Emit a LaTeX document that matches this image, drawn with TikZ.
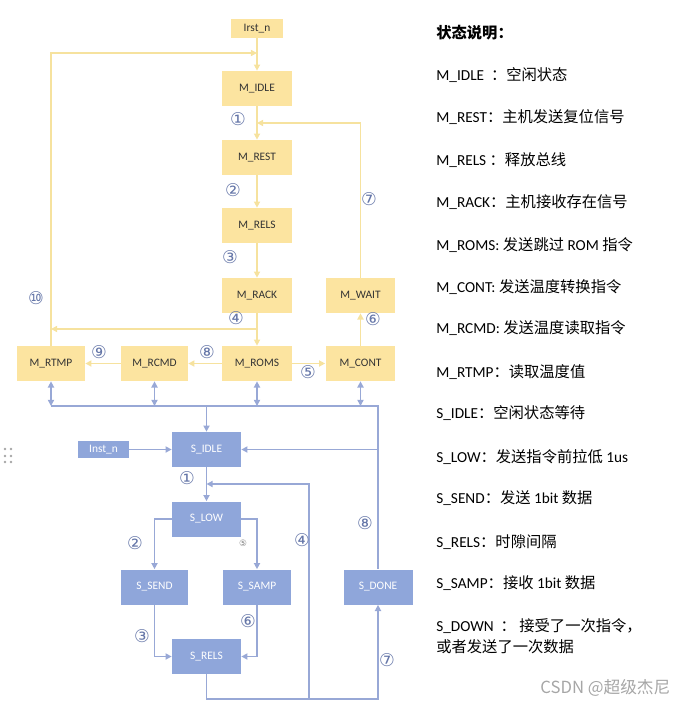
\documentclass[tikz,border=0pt]{standalone}
\usepackage{fontspec}
\setmainfont{Carlito}
\newfontfamily\cjk{Noto Sans CJK SC}
\newfontfamily\circfont{DejaVu Sans}
\usetikzlibrary{arrows.meta}
\definecolor{mfill}{HTML}{FCE4A0}
\definecolor{mline}{HTML}{F6E29E}
\definecolor{sfill}{HTML}{8FA6DA}
\definecolor{sline}{HTML}{98A8D6}
\definecolor{numcol}{HTML}{6576A8}
\tikzset{
  mstate/.style={fill=mfill, minimum width=1.4cm, minimum height=0.7cm, inner sep=0pt, font=\fontsize{6.5}{7}\selectfont, text=black!80},
  sstate/.style={fill=sfill, minimum width=1.38cm, minimum height=0.7cm, inner sep=0pt, font=\fontsize{6.5}{7}\selectfont, text=white},
  mwire/.style={draw=mline, line width=0.8pt, -{Triangle[length=3.5pt,width=3.5pt]}},
  swire/.style={draw=sline, line width=0.8pt, -{Triangle[length=3.5pt,width=3.5pt]}},
  sboth/.style={draw=sline, line width=0.8pt, {Triangle[length=3.5pt,width=3.5pt]}-{Triangle[length=3.5pt,width=3.5pt]}},
  sbus/.style={draw=sline, line width=0.8pt},
  num/.style={font=\circfont\fontsize{10}{10}\selectfont, text=numcol, inner sep=0pt},
  note/.style={anchor=west, inner sep=0pt, font=\fontsize{8.7}{10}\selectfont},
}

\begin{document}
\begin{tikzpicture}[x=0.02cm, y=-0.02cm]
\useasboundingbox (0,0) rectangle (692,706);
% master states
\node[mstate, minimum width=1.04cm, minimum height=0.38cm] (rst) at (257,28.5) {Irst\_n};
\node[mstate] (midle) at (257,88.5) {M\_IDLE};
\node[mstate] (mrest) at (257,157.5) {M\_REST};
\node[mstate] (mrels) at (257,225.5) {M\_RELS};
\node[mstate] (mrack) at (257,295.5) {M\_RACK};
\node[mstate] (mwait) at (360.5,295.5) {M\_WAIT};
\node[mstate, minimum width=1.36cm] (mrtmp) at (51,363.5) {M\_RTMP};
\node[mstate, minimum width=1.34cm] (mrcmd) at (154.5,363.5) {M\_RCMD};
\node[mstate] (mroms) at (257,363.5) {M\_ROMS};
\node[mstate] (mcont) at (360.5,363.5) {M\_CONT};
% slave states
\node[sstate, minimum width=1.02cm, minimum height=0.34cm] (inst) at (103.5,449.5) {Inst\_n};
\node[sstate] (sidle) at (206.5,449.5) {S\_IDLE};
\node[sstate] (slow) at (206.5,519) {S\_LOW};
\node[sstate, minimum width=1.34cm] (ssend) at (154.5,587) {S\_SEND};
\node[sstate] (ssamp) at (257,587) {S\_SAMP};
\node[sstate] (sdone) at (378,587) {S\_DONE};
\node[sstate] (srels) at (206.5,656.5) {S\_RELS};
% junctions
\coordinate (jidle) at (257,53);
\coordinate (jrest) at (257,123);
\coordinate (jrack) at (257,329);
\coordinate (jrtmp) at (51,329);
\coordinate (busl) at (51,406);
\coordinate (busr) at (378,406);
\coordinate (jlow) at (206.5,484);
\coordinate (jbot) at (309,699);
\coordinate (jdone) at (378,699);
% master wires
\draw[mwire] (rst) -- (midle);
\draw[mwire] (mrtmp.north) |- (jidle);
\draw[mwire] (midle) -- (mrest);
\draw[mwire] (mwait.north) |- (jrest);
\draw[mwire] (mrest) -- (mrels);
\draw[mwire] (mrels) -- (mrack);
\draw[mwire] (mrack) -- (mroms);
\draw[mwire] (jrack) -- (jrtmp);
\draw[mwire] (mroms) -- (mrcmd);
\draw[mwire] (mrcmd) -- (mrtmp);
\draw[mwire] (mroms) -- (mcont);
\draw[mwire] (mcont) -- (mwait);
% bus
\foreach \n in {mrtmp,mrcmd,mroms,mcont}
  \draw[sboth] (\n.south) -- (\n.south |- busl);
\draw[sbus] (busl) -- (busr) -- (sdone.north);
% slave wires
\draw[swire] (sidle.north |- busl) -- (sidle);
\draw[swire] (sdone.north |- sidle.east) -- (sidle.east);
\draw[swire] (inst) -- (sidle);
\draw[swire] (sidle) -- (slow);
\draw[swire] (jbot) |- (jlow);
\draw[swire] (slow.west) -| (ssend.north);
\draw[swire] (slow.east) -| (ssamp.north);
\draw[swire] (ssend.south) |- (srels.west);
\draw[swire] (ssamp.south) |- (srels.east);
\draw[swire] (srels.south) |- (jdone) -- (sdone.south);
% transition numbers
\node[num] (m1) at (238,119) {①};
\node[num] (m2) at (233,190) {②};
\node[num] (m3) at (230,257) {③};
\node[num] (m4) at (236,318) {④};
\node[num] (m5) at (308,372) {⑤};
\node[num] (m6) at (373,319) {⑥};
\node[num] (m7) at (369,199) {⑦};
\node[num] (m8) at (207,352) {⑧};
\node[num] (m9) at (99,352) {⑨};
\node[num] (m10) at (36,298) {⑩};
\node[num] (s1) at (187,478) {①};
\node[num] (s2) at (135,543) {②};
\node[num] (s3) at (142,636) {③};
\node[num] (s4) at (302,540) {④};
\node[num, font=\circfont\fontsize{5}{5}\selectfont, text=gray] (s5) at (243,543) {⑤};
\node[num] (s6) at (248,621) {⑥};
\node[num] (s7) at (387,660) {⑦};
\node[num] (s8) at (365,523) {⑧};
% grip
\foreach \dx in {5,11}
  \foreach \dy in {449,456,462}
    \fill[gray!70] (\dx,\dy) circle (0.8pt);
% legend
\node[note] (t0) at (436,33) {\cjk\bfseries 状态说明：};
\node[note] (t1) at (436,75) {M\_IDLE\ \ {\cjk ：空闲状态}};
\node[note] (t2) at (436,117) {M\_REST{\cjk ：主机发送复位信号}};
\node[note] (t3) at (436,160) {M\_RELS\ {\cjk ：释放总线}};
\node[note] (t4) at (436,202) {M\_RACK{\cjk ：主机接收存在信号}};
\node[note] (t5) at (436,245) {M\_ROMS:\ {\cjk 发送跳过} ROM {\cjk 指令}};
\node[note] (t6) at (436,287) {M\_CONT:\ {\cjk 发送温度转换指令}};
\node[note] (t7) at (436,328) {M\_RCMD:\ {\cjk 发送温度读取指令}};
\node[note] (t8) at (436,372) {M\_RTMP{\cjk ：读取温度值}};
\node[note] (t9) at (436,413) {S\_IDLE{\cjk ：空闲状态等待}};
\node[note] (t10) at (436,457) {S\_LOW{\cjk ：发送指令前拉低} 1us};
\node[note] (t11) at (436,498) {S\_SEND{\cjk ：发送} 1bit {\cjk 数据}};
\node[note] (t12) at (436,542) {S\_RELS{\cjk ：时隙间隔}};
\node[note] (t13) at (436,583) {S\_SAMP{\cjk ：接收} 1bit {\cjk 数据}};
\node[note] (t14) at (436,626) {S\_DOWN\ \ {\cjk ：\ 接受了一次指令，}};
\node[note] (t15) at (436,647) {\cjk 或者发送了一次数据};
\node[note, text=gray!70, font=\cjk\fontsize{9.5}{10}\selectfont] (mark) at (540,688) {CSDN @超级杰尼};
\end{tikzpicture}
\end{document}
